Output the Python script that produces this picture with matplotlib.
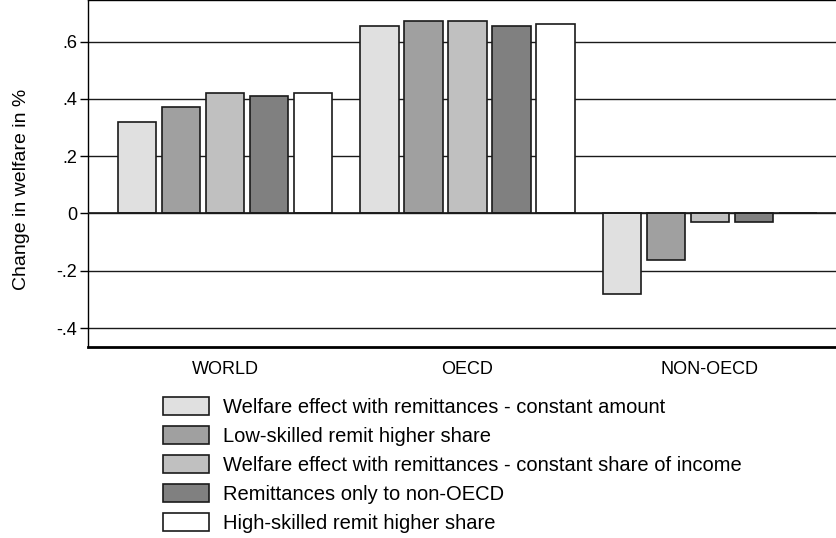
import matplotlib
matplotlib.use('Agg')
import matplotlib.pyplot as plt
import numpy as np

plt.rcParams['font.family'] = ['Liberation Sans', 'DejaVu Sans']

groups = ['WORLD', 'OECD', 'NON-OECD']
series = ['Welfare effect with remittances - constant amount',
          'Low-skilled remit higher share',
          'Welfare effect with remittances - constant share of income',
          'Remittances only to non-OECD',
          'High-skilled remit higher share']
values = [
    [0.319, 0.653, -0.282],
    [0.371, 0.671, -0.164],
    [0.422, 0.671, -0.031],
    [0.409, 0.653, -0.031],
    [0.422, 0.660, 0.0],
]
colors = ['#e0e0e0', '#a0a0a0', '#c0c0c0', '#808080', '#ffffff']
yticks = [-0.4, -0.2, 0, 0.2, 0.4, 0.6]
yticklabels = ['-.4', '-.2', '0', '.2', '.4', '.6']

W, H = 837, 538
fig = plt.figure(figsize=(W / 100, H / 100), dpi=100)
ax = fig.add_axes([88 / W, 191 / H, 759 / W, 347 / H])

x = np.arange(len(groups))
pitch = 0.1814
width = 0.157
for i, (name, vals) in enumerate(zip(series, values)):
    ax.bar(x + (i - 2) * pitch, vals, width, color=colors[i],
           edgecolor='#1a1a1a', linewidth=1.2, label=name, zorder=3)

for t in yticks:
    ax.axhline(t, color='#1a1a1a', linewidth=1.0, zorder=1)
# zero line sits on top of the bar bottoms
ax.axhline(0, color='#1a1a1a', linewidth=1.2, zorder=4)

ax.set_xlim(-0.565, 2.565)
ax.set_ylim(-0.466, 0.745)
ax.set_xticks(x)
ax.set_xticklabels(groups, fontsize=13)
ax.tick_params(axis='x', length=0, pad=10)
ax.set_yticks(yticks)
ax.set_yticklabels(yticklabels, fontsize=13)
ax.tick_params(axis='y', length=6, width=1.0, pad=2)

for s in ['left', 'top', 'right']:
    ax.spines[s].set_linewidth(1.0)
ax.spines['bottom'].set_linewidth(2.0)

fig.text(22 / W, 1 - 189 / H, 'Change in welfare in %', rotation=90,
         ha='center', va='center', fontsize=14)

fig.legend(loc='upper left', bbox_to_anchor=(163 / W, 1 - 397 / H),
           frameon=False, fontsize=14.5, handlelength=2.29, handleheight=1.0,
           handletextpad=0.68, labelspacing=0.45, borderaxespad=0, borderpad=0)

fig.savefig('out.png', dpi=100)
